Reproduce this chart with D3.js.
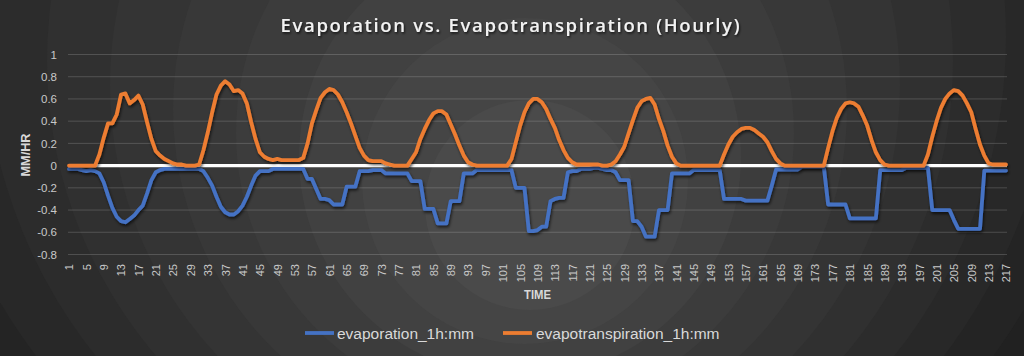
<!DOCTYPE html>
<html>
<head>
<meta charset="utf-8">
<script src="https://cdn.jsdelivr.net/npm/d3@7"></script>
<style>
  html, body { margin: 0; padding: 0; background: #1f1f1f; }
  svg { display: block; }
</style>
</head>
<body>
<svg id="chart" width="1024" height="356"></svg>
<script>
// ---------------- DATA ----------------
const chartTitle = "Evaporation vs. Evapotranspiration (Hourly)";
const yAxisTitle = "MM/HR";
const xAxisTitle = "TIME";
const seriesNames = ["evaporation_1h:mm", "evapotranspiration_1h:mm"];

const categories = d3.range(1, 218); // hours 1..217

const evaporation = [
  -0.03,-0.03,-0.03,-0.04,-0.05,-0.04,-0.05,-0.07,-0.15,-0.27,
  -0.38,-0.46,-0.50,-0.51,-0.48,-0.45,-0.40,-0.36,-0.25,-0.13,
  -0.06,-0.04,-0.03,-0.03,-0.03,-0.03,-0.03,-0.03,-0.03,-0.03,
  -0.03,-0.05,-0.11,-0.18,-0.28,-0.37,-0.42,-0.44,-0.44,-0.41,
  -0.36,-0.28,-0.18,-0.09,-0.05,-0.05,-0.05,-0.03,-0.03,-0.03,
  -0.03,-0.03,-0.03,-0.03,-0.03,-0.12,-0.12,-0.21,-0.30,-0.30,
  -0.31,-0.35,-0.35,-0.35,-0.19,-0.19,-0.19,-0.05,-0.05,-0.05,
  -0.04,-0.04,-0.04,-0.07,-0.07,-0.07,-0.07,-0.07,-0.07,-0.14,
  -0.14,-0.14,-0.39,-0.39,-0.39,-0.52,-0.52,-0.52,-0.32,-0.32,
  -0.32,-0.07,-0.07,-0.07,-0.04,-0.04,-0.04,-0.04,-0.04,-0.04,
  -0.04,-0.04,-0.04,-0.20,-0.20,-0.20,-0.59,-0.59,-0.58,-0.55,
  -0.55,-0.32,-0.30,-0.29,-0.29,-0.06,-0.05,-0.05,-0.03,-0.03,
  -0.03,-0.02,-0.02,-0.03,-0.04,-0.04,-0.06,-0.13,-0.13,-0.13,
  -0.50,-0.50,-0.55,-0.64,-0.64,-0.64,-0.40,-0.40,-0.40,-0.07,
  -0.07,-0.07,-0.07,-0.07,-0.04,-0.04,-0.04,-0.04,-0.04,-0.04,
  -0.04,-0.30,-0.30,-0.30,-0.30,-0.30,-0.315,-0.315,-0.315,-0.315,
  -0.315,-0.315,-0.18,-0.035,-0.035,-0.035,-0.035,-0.035,-0.035,-0.01,
  -0.01,-0.01,-0.01,-0.01,-0.01,-0.35,-0.35,-0.35,-0.35,-0.35,
  -0.475,-0.475,-0.475,-0.475,-0.475,-0.475,-0.475,-0.04,-0.04,-0.04,
  -0.04,-0.04,-0.04,-0.02,-0.02,-0.02,-0.02,-0.02,-0.02,-0.40,
  -0.40,-0.40,-0.40,-0.40,-0.49,-0.57,-0.57,-0.57,-0.57,-0.57,
  -0.57,-0.045,-0.045,-0.045,-0.045,-0.045,-0.045
];

const evapotranspiration = [
  0,0,0,0,0,0,0,0.10,0.25,0.38,
  0.38,0.46,0.64,0.65,0.56,0.59,0.63,0.55,0.39,0.24,
  0.13,0.09,0.06,0.04,0.02,0.01,0.01,0,0,0,
  0.01,0.14,0.30,0.48,0.64,0.72,0.76,0.73,0.67,0.68,
  0.65,0.56,0.39,0.24,0.12,0.08,0.06,0.05,0.06,0.05,
  0.05,0.05,0.05,0.05,0.07,0.20,0.38,0.50,0.61,0.66,
  0.69,0.68,0.64,0.57,0.48,0.38,0.27,0.16,0.09,0.05,
  0.04,0.04,0.04,0.02,0.01,0,0,0,0,0.06,
  0.12,0.24,0.33,0.41,0.47,0.49,0.49,0.46,0.37,0.28,
  0.18,0.09,0.03,0.01,0,0,0,0,0,0,
  0,0,0.06,0.21,0.36,0.48,0.56,0.60,0.60,0.57,
  0.51,0.42,0.34,0.23,0.14,0.07,0.03,0.01,0.01,0.01,
  0.01,0.01,0.01,0,0,0.01,0.04,0.10,0.17,0.29,
  0.41,0.52,0.58,0.60,0.61,0.55,0.42,0.31,0.18,0.08,
  0.02,0,0,0,0,0,0,0,0,0,
  0,0.10,0.19,0.26,0.30,0.33,0.34,0.34,0.32,0.29,
  0.26,0.21,0.13,0.06,0.02,0,0,0,0,0,
  0,0,0,0,0,0.16,0.31,0.43,0.51,0.56,
  0.57,0.56,0.53,0.45,0.36,0.23,0.12,0.05,0.01,0,
  0,0,0,0,0,0,0,0,0.10,0.26,
  0.40,0.52,0.60,0.65,0.68,0.67,0.63,0.56,0.48,0.33,
  0.19,0.09,0.02,0.01,0.01,0.01,0.01
];

const yTicks = [-0.8, -0.6, -0.4, -0.2, 0, 0.2, 0.4, 0.6, 0.8, 1];
const xTickLabels = [1,5,9,13,17,21,25,29,33,37,41,45,49,53,57,61,65,69,73,77,
  81,85,89,93,97,101,105,109,113,117,121,125,129,133,137,141,145,149,153,157,
  161,165,169,173,177,181,185,189,193,197,201,205,209,213,217];

// ---------------- CHART ----------------
const W = 1024, H = 356;
const svg = d3.select("#chart");
const defs = svg.append("defs");

const shadow = defs.append("filter").attr("id", "shadow")
  .attr("x", "-5%").attr("y", "-20%").attr("width", "110%").attr("height", "140%");
shadow.append("feDropShadow").attr("dx", 1).attr("dy", 2)
  .attr("stdDeviation", 1.4).attr("flood-color", "#000").attr("flood-opacity", 0.65);

const tshadow = defs.append("filter").attr("id", "tshadow")
  .attr("x", "-5%").attr("y", "-30%").attr("width", "110%").attr("height", "160%");
tshadow.append("feDropShadow").attr("dx", 1).attr("dy", 1.5)
  .attr("stdDeviation", 1).attr("flood-color", "#000").attr("flood-opacity", 0.7);

// background: eccentric rings, light in the middle, dark toward the edges
const bg = svg.append("g");
bg.append("rect").attr("width", W).attr("height", H).attr("fill", "#1e1e1e");
const ringColors = ["#202020","#212121","#242424","#282828","#2c2c2c","#303030",
                    "#343434","#383838","#3c3c3c","#414141","#454545","#4a4a4a"];
const nR = ringColors.length;
ringColors.forEach((c, i) => {
  const k = nR - 1 - i; // k = 0 innermost
  bg.append("circle")
    .attr("cx", 530 - 5 * k)
    .attr("cy", 205 - 24 * k)
    .attr("r", 105 + 58 * k)
    .attr("fill", c);
});

const x = d3.scalePoint().domain(categories).range([69, 1006]);
const y = d3.scaleLinear().domain([-0.8, 1]).range([254.5, 54.5]);
const [x0, x1] = x.range();

// gridlines
svg.append("g").selectAll("line").data(yTicks).join("line")
  .attr("x1", x0 - 1).attr("x2", x1 + 1)
  .attr("y1", d => y(d)).attr("y2", d => y(d))
  .attr("stroke", "rgba(255,255,255,0.17)").attr("stroke-width", 1);

// y axis labels
const yAxis = svg.append("g").attr("transform", `translate(${x0 - 1},0)`)
  .call(d3.axisLeft(y).tickValues(yTicks).tickSize(0).tickPadding(11)
    .tickFormat(d => String(d)));
yAxis.select(".domain").remove();
yAxis.selectAll("text")
  .attr("fill", "#c9c9c9").style("font-family", "'Liberation Sans', Arial, sans-serif")
  .style("font-size", "11.5px");

// x axis labels (rotated)
const xAxis = svg.append("g").attr("transform", `translate(0,${y(-0.8)})`)
  .call(d3.axisBottom(x).tickValues(xTickLabels).tickSize(0));
xAxis.select(".domain").remove();
xAxis.selectAll("text")
  .attr("transform", "rotate(-90)")
  .attr("x", -9.5).attr("y", 0).attr("dy", "0.35em")
  .attr("text-anchor", "end")
  .attr("fill", "#c9c9c9")
  .style("font-family", "'Liberation Sans', Arial, sans-serif")
  .style("font-size", "11px");

// zero (category) axis line
svg.append("line")
  .attr("x1", x0 - 1).attr("x2", x1 + 1)
  .attr("y1", y(0)).attr("y2", y(0))
  .attr("stroke", "#ffffff").attr("stroke-width", 3.4);

// series
const line = d3.line().x((d, i) => x(categories[i])).y(d => y(d));
const series = [
  { name: seriesNames[0], values: evaporation, color: "#4472c4" },
  { name: seriesNames[1], values: evapotranspiration, color: "#ed7d31" }
];
svg.append("g").selectAll("path").data(series).join("path")
  .attr("d", d => line(d.values))
  .attr("fill", "none")
  .attr("stroke", d => d.color)
  .attr("stroke-width", 3.8)
  .attr("stroke-linejoin", "round")
  .attr("stroke-linecap", "round")
  .attr("filter", "url(#shadow)");

// title
svg.append("text")
  .attr("x", 510).attr("y", 31.5)
  .attr("text-anchor", "middle")
  .attr("textLength", 459).attr("lengthAdjust", "spacing")
  .attr("fill", "#f2f2f2")
  .attr("filter", "url(#tshadow)")
  .style("font-family", "'Open Sans', sans-serif")
  .style("font-weight", 600)
  .style("font-size", "18.5px")
  .text(chartTitle);

// axis titles
svg.append("text")
  .attr("transform", `translate(30,155) rotate(-90)`)
  .attr("text-anchor", "middle")
  .attr("textLength", 43).attr("lengthAdjust", "spacingAndGlyphs")
  .attr("fill", "#d9d9d9")
  .style("font-family", "'Liberation Sans', Arial, sans-serif")
  .style("font-weight", "bold").style("font-size", "12px")
  .text(yAxisTitle);

svg.append("text")
  .attr("x", (x0 + x1) / 2).attr("y", 299)
  .attr("text-anchor", "middle")
  .attr("textLength", 27).attr("lengthAdjust", "spacingAndGlyphs")
  .attr("fill", "#d9d9d9")
  .style("font-family", "'Liberation Sans', Arial, sans-serif")
  .style("font-weight", "bold").style("font-size", "12px")
  .text(xAxisTitle);

// legend
const legendItems = [
  { s: series[0], lx: 305, tx: 337 },
  { s: series[1], lx: 503, tx: 536 }
];
const lg = svg.append("g");
legendItems.forEach(it => {
  lg.append("line")
    .attr("x1", it.lx).attr("x2", it.lx + 29)
    .attr("y1", 333).attr("y2", 333)
    .attr("stroke", it.s.color).attr("stroke-width", 3.8);
  lg.append("text")
    .attr("x", it.tx).attr("y", 338.5)
    .attr("fill", "#d9d9d9")
    .style("font-family", "'Liberation Sans', Arial, sans-serif")
    .style("font-size", "15.5px")
    .text(it.s.name);
});
</script>
</body>
</html>
